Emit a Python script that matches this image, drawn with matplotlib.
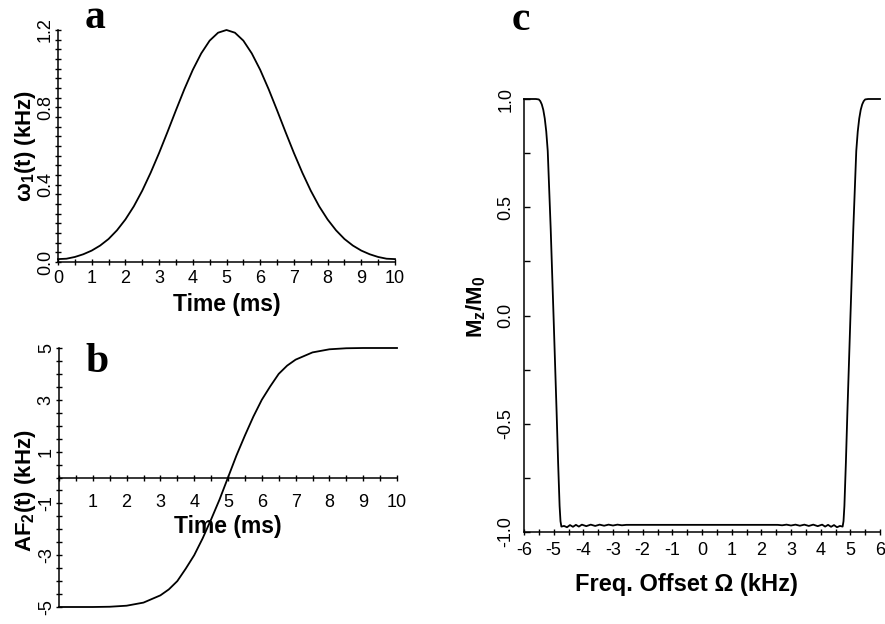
import matplotlib
matplotlib.use("Agg")
import matplotlib.pyplot as plt
from matplotlib.ticker import MultipleLocator

plt.rcParams['font.family'] = ['Liberation Sans', 'DejaVu Sans']
plt.rcParams['axes.unicode_minus'] = False
plt.rcParams['mathtext.fontset'] = 'custom'
plt.rcParams['mathtext.rm'] = 'Liberation Sans'
plt.rcParams['mathtext.bf'] = 'Liberation Sans:bold'

# --- data ---
# (a) RF amplitude, kHz vs time, ms
a_time = [0, 0.25, 0.5, 0.75, 1, 1.25, 1.5, 1.75, 2, 2.25, 2.5, 2.75, 3, 3.25, 3.5,
          3.75, 4, 4.25, 4.5, 4.75, 5, 5.25, 5.5, 5.75, 6, 6.25, 6.5, 6.75, 7,
          7.25, 7.5, 7.75, 8, 8.25, 8.5, 8.75, 9, 9.25, 9.5, 9.75, 10]
a_omega1 = [0.015, 0.017, 0.026, 0.04, 0.059, 0.085, 0.119, 0.164, 0.22, 0.288,
            0.369, 0.462, 0.564, 0.673, 0.785, 0.894, 0.994, 1.079, 1.145, 1.186,
            1.2, 1.186, 1.145, 1.079, 0.994, 0.894, 0.785, 0.673, 0.564, 0.462,
            0.369, 0.288, 0.22, 0.164, 0.119, 0.085, 0.059, 0.04, 0.026, 0.017, 0.015]

# (b) frequency sweep, kHz vs time, ms
b_time = [0, 0.5, 1, 1.5, 2, 2.5, 3, 3.25, 3.5, 3.75, 4, 4.25, 4.5, 4.75, 5,
          5.25, 5.5, 5.75, 6, 6.25, 6.5, 6.75, 7, 7.5, 8, 8.5, 9, 9.5, 10]
b_af2 = [-5.0, -5.0, -5.0, -4.99, -4.95, -4.83, -4.55, -4.32, -4.0, -3.52, -3.0,
         -2.35, -1.62, -0.85, 0.0, 0.85, 1.62, 2.35, 3.0, 3.52, 4.0, 4.32, 4.55,
         4.83, 4.95, 4.99, 5.0, 5.0, 5.0]

# (c) inversion profile, Mz/M0 vs offset, kHz
c_freq = [-6.0, -5.6, -5.5, -5.45, -5.4, -5.35, -5.3, -5.25, -5.2, -5.1, -5.0,
          -4.9, -4.85, -4.8, -4.77, -4.74, -4.65, -4.55, -4.45, -4.35, -4.25,
          -4.15, -4.05, -3.9, -3.75, -3.6, -3.45, -3.3, -3.15, -3.0, -2.85,
          -2.7, -2.55, -2.4,
          2.4, 2.55, 2.7, 2.85, 3.0, 3.15, 3.3, 3.45, 3.6, 3.75, 3.9, 4.05,
          4.15, 4.25, 4.35, 4.45, 4.55, 4.65, 4.74, 4.77, 4.8, 4.85, 4.9, 5.0,
          5.1, 5.2, 5.25, 5.3, 5.35, 5.4, 5.45, 5.5, 5.6, 6.0]
c_mz = [1.0, 1.0, 0.998, 0.99, 0.975, 0.95, 0.91, 0.85, 0.76, 0.40, -0.02,
        -0.45, -0.68, -0.88, -0.95, -0.975, -0.972, -0.978, -0.968, -0.976,
        -0.967, -0.975, -0.966, -0.973, -0.966, -0.972, -0.966, -0.971, -0.966,
        -0.970, -0.966, -0.969, -0.967, -0.967,
        -0.967, -0.967, -0.969, -0.966, -0.970, -0.966, -0.971, -0.966, -0.972,
        -0.966, -0.973, -0.966, -0.975, -0.967, -0.976, -0.968, -0.978, -0.972,
        -0.975, -0.95, -0.88, -0.68, -0.45, -0.02, 0.40, 0.76, 0.85, 0.91,
        0.95, 0.975, 0.99, 0.998, 1.0, 1.0]

W, H = 885, 624
fig = plt.figure(figsize=(W / 100, H / 100), dpi=100)


def box(left, top, right, bottom):
    return [left / W, 1 - bottom / H, (right - left) / W, (bottom - top) / H]


def tidy(ax):
    ax.spines['top'].set_visible(False)
    ax.spines['right'].set_visible(False)
    for s in ('left', 'bottom'):
        ax.spines[s].set_linewidth(1.1)


# ---- panel a ----
ax_a = fig.add_axes(box(58, 30, 395, 262))
tidy(ax_a)
ax_a.plot(a_time, a_omega1, color='black', lw=1.3, clip_on=False)
ax_a.set_xlim(0, 10)
ax_a.set_ylim(0, 1.2)
ax_a.set_xticks(range(0, 11))
ax_a.xaxis.set_minor_locator(MultipleLocator(0.5))
ax_a.set_yticks([0, 0.4, 0.8, 1.2])
ax_a.set_yticklabels(['0.0', '0.4', '0.8', '1.2'], rotation=90, va='center')
ax_a.yaxis.set_minor_locator(MultipleLocator(0.05))
ax_a.tick_params(which='both', direction='inout', length=4, width=1, labelsize=13)
ax_a.tick_params(axis='x', pad=4)
ax_a.tick_params(axis='y', pad=1)
ax_a.set_xlabel('Time (ms)', fontsize=16.5, fontweight='bold', labelpad=4)
ax_a.set_ylabel(r'ω$_\mathbf{1}$(t) (kHz)', fontsize=16, fontweight='bold')
ax_a.yaxis.set_label_coords(-0.058, 0.5)

# ---- panel b ----
ax_b = fig.add_axes(box(59, 348, 397, 607))
tidy(ax_b)
ax_b.spines['bottom'].set_position(('data', 0))
ax_b.plot(b_time, b_af2, color='black', lw=1.3, clip_on=False)
ax_b.set_xlim(0, 10)
ax_b.set_ylim(-5, 5)
ax_b.set_xticks(range(1, 11))
ax_b.xaxis.set_minor_locator(MultipleLocator(0.5))
ax_b.set_yticks([-5, -3, -1, 1, 3, 5])
ax_b.set_yticklabels(['-5', '-3', '-1', '1', '3', '5'], rotation=90, va='center')
ax_b.yaxis.set_minor_locator(MultipleLocator(0.5))
ax_b.tick_params(which='both', direction='inout', length=4, width=1, labelsize=13)
ax_b.tick_params(axis='x', pad=10)
ax_b.tick_params(axis='y', pad=1)
ax_b.set_xlabel('Time (ms)', fontsize=16.5, fontweight='bold')
ax_b.xaxis.set_label_coords(0.5, 0.31)
ax_b.xaxis.label.set_va('center')
ax_b.set_ylabel(r'AF$_\mathbf{2}$(t) (kHz)', fontsize=16, fontweight='bold')
ax_b.yaxis.set_label_coords(-0.062, 0.45)

# ---- panel c ----
ax_c = fig.add_axes(box(524, 99, 880, 532))
tidy(ax_c)
ax_c.plot(c_freq, c_mz, color='black', lw=1.3, clip_on=False)
ax_c.set_xlim(-6, 6)
ax_c.set_ylim(-1, 1)
ax_c.set_xticks(range(-6, 7))
ax_c.xaxis.set_minor_locator(MultipleLocator(0.5))
ax_c.set_yticks([-1, -0.5, 0, 0.5, 1])
ax_c.set_yticklabels(['-1.0', '-0.5', '0.0', '0.5', '1.0'], rotation=90, va='center')
ax_c.yaxis.set_minor_locator(MultipleLocator(0.25))
ax_c.tick_params(axis='x', which='both', direction='inout', length=4, width=1, labelsize=13, pad=5)
ax_c.tick_params(axis='y', which='both', direction='in', length=4, width=1, labelsize=13, pad=7)
ax_c.set_xlabel('Freq. Offset Ω (kHz)', fontsize=17, fontweight='bold')
ax_c.xaxis.set_label_coords(0.455, -0.095)
ax_c.xaxis.label.set_va('top')
ax_c.set_ylabel(r'M$_\mathbf{z}$/M$_\mathbf{0}$', fontsize=16, fontweight='bold')
ax_c.yaxis.set_label_coords(-0.1, 0.52)

# panel letters
for letter, x, y in [('a', 85, 28), ('b', 85, 372), ('c', 512, 30)]:
    fig.text(x / W, 1 - y / H, letter, fontsize=30, fontweight='bold',
             family='Liberation Serif', va='baseline', ha='left')

fig.savefig('out.png', dpi=100)
